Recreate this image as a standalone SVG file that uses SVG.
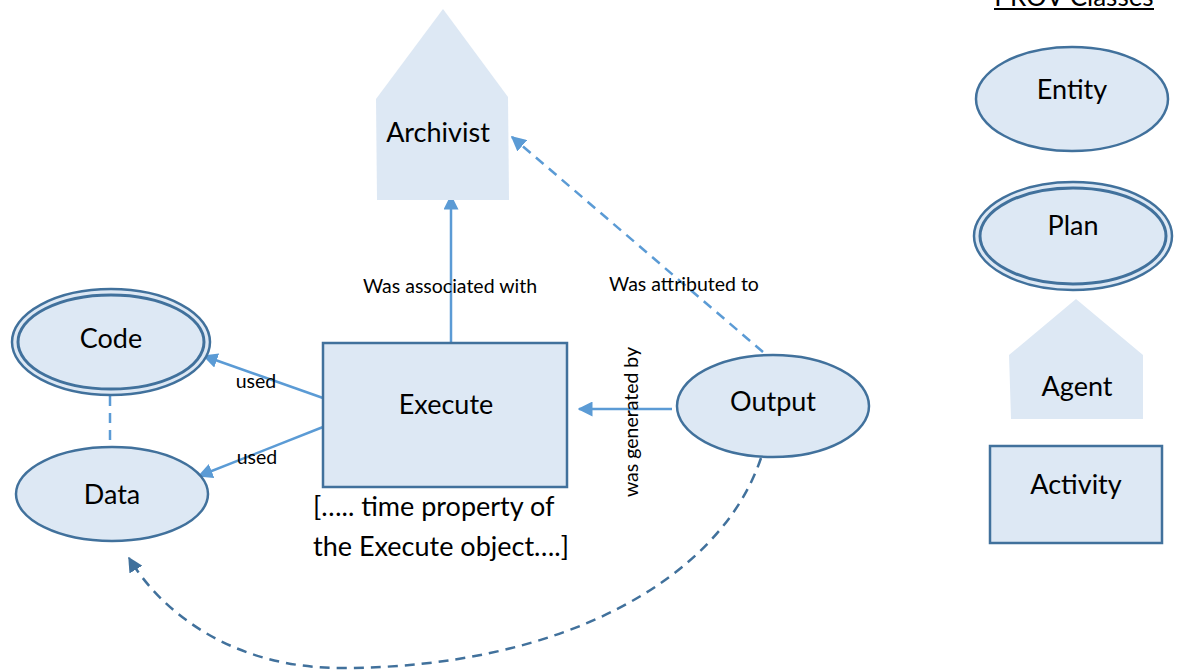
<svg xmlns="http://www.w3.org/2000/svg" width="1181" height="671" viewBox="0 0 1181 671">
<defs>
<style>
.node{fill:#dde8f4;stroke:#41719c;stroke-width:2.5}
.agent{fill:#dde8f4;stroke:none}
.lbl{font-family:Lato,"Liberation Sans",sans-serif;font-size:27px;fill:#000;text-anchor:middle;dominant-baseline:central}
.elbl{font-family:Lato,"Liberation Sans",sans-serif;font-size:19.5px;fill:#000;text-anchor:middle;dominant-baseline:central}
.edge{fill:none;stroke:#5b9bd5;stroke-width:2.5}
.dash{stroke-dasharray:10,7}
.dark{stroke:#41719c}
</style>
<marker id="ah" viewBox="0 0 10 10" refX="9" refY="5" markerWidth="6" markerHeight="6" markerUnits="strokeWidth" orient="auto"><path d="M0,0 L10,5 L0,10 z" fill="#5b9bd5"/></marker>
<marker id="ahd" viewBox="0 0 10 10" refX="9" refY="5" markerWidth="6" markerHeight="6" markerUnits="strokeWidth" orient="auto"><path d="M0,0 L10,5 L0,10 z" fill="#41719c"/></marker>
</defs>
<rect width="1181" height="671" fill="#fff"/>
<g id="connectors">
<line class="edge" x1="451" y1="343" x2="451" y2="196" marker-end="url(#ah)"/>
<line class="edge dash" x1="763" y1="352" x2="512" y2="137" marker-end="url(#ah)"/>
<line class="edge" x1="672" y1="409" x2="579" y2="409" marker-end="url(#ah)"/>
<line class="edge" x1="323" y1="398" x2="204" y2="356" marker-end="url(#ah)"/>
<line class="edge" x1="323" y1="427" x2="199" y2="476" marker-end="url(#ah)"/>
<line class="edge dash" x1="110" y1="396" x2="110" y2="450" stroke-dasharray="8,6"/>
<path class="edge dash dark" d="M761,458 C720,580 560,668 341,668 C230,668 160,610 129,558" marker-end="url(#ahd)"/>
<text class="elbl" x="450" y="285">Was associated with</text>
<text class="elbl" x="684" y="283">Was attributed to</text>
<text class="elbl" x="256" y="380">used</text>
<text class="elbl" x="257" y="456">used</text>
<text class="elbl" transform="translate(630,422) rotate(-90)">was generated by</text>
</g>
<g id="archivist">
<polygon class="agent" points="443,9 508,97 509,200 377,200 376,99"/>
<text class="lbl" x="438" y="131">Archivist</text>
</g>
<g id="execute">
<rect class="node" x="323" y="343" width="244" height="144"/>
<text class="lbl" x="446" y="403">Execute</text>
<text class="lbl" x="313" y="505" style="text-anchor:start">[….. time property of</text>
<text class="lbl" x="313" y="545" style="text-anchor:start">the Execute object….]</text>
</g>
<g id="code">
<ellipse class="node" cx="111" cy="342" rx="99" ry="53" stroke-width="3"/>
<ellipse cx="111" cy="342" rx="93" ry="47" fill="none" stroke="#41719c" stroke-width="3"/>
<text class="lbl" x="111" y="337">Code</text>
</g>
<g id="data">
<ellipse class="node" cx="112" cy="494" rx="96" ry="47"/>
<text class="lbl" x="112" y="493">Data</text>
</g>
<g id="output">
<ellipse class="node" cx="773" cy="406" rx="96" ry="51"/>
<text class="lbl" x="773" y="400">Output</text>
</g>
<g id="legend">
<text x="1074" y="6" style="font-family:Lato,'Liberation Sans',sans-serif;font-size:26px;text-anchor:middle">PROV Classes</text>
<line x1="994" y1="9" x2="1154" y2="9" stroke="#000" stroke-width="2"/>
<g id="entity">
<ellipse class="node" cx="1072" cy="99" rx="96" ry="52"/>
<text class="lbl" x="1072" y="88">Entity</text>
</g>
<g id="plan">
<ellipse class="node" cx="1073" cy="236" rx="99" ry="54" stroke-width="3"/>
<ellipse cx="1073" cy="236" rx="93" ry="48" fill="none" stroke="#41719c" stroke-width="3"/>
<text class="lbl" x="1073" y="224">Plan</text>
</g>
<g id="agent">
<polygon class="agent" points="1076,299 1143,355 1143,419 1011,419 1009,355"/>
<text class="lbl" x="1077" y="385">Agent</text>
</g>
<g id="activity">
<rect class="node" x="990" y="446" width="172" height="97"/>
<text class="lbl" x="1076" y="483">Activity</text>
</g>
</g>
</svg>
